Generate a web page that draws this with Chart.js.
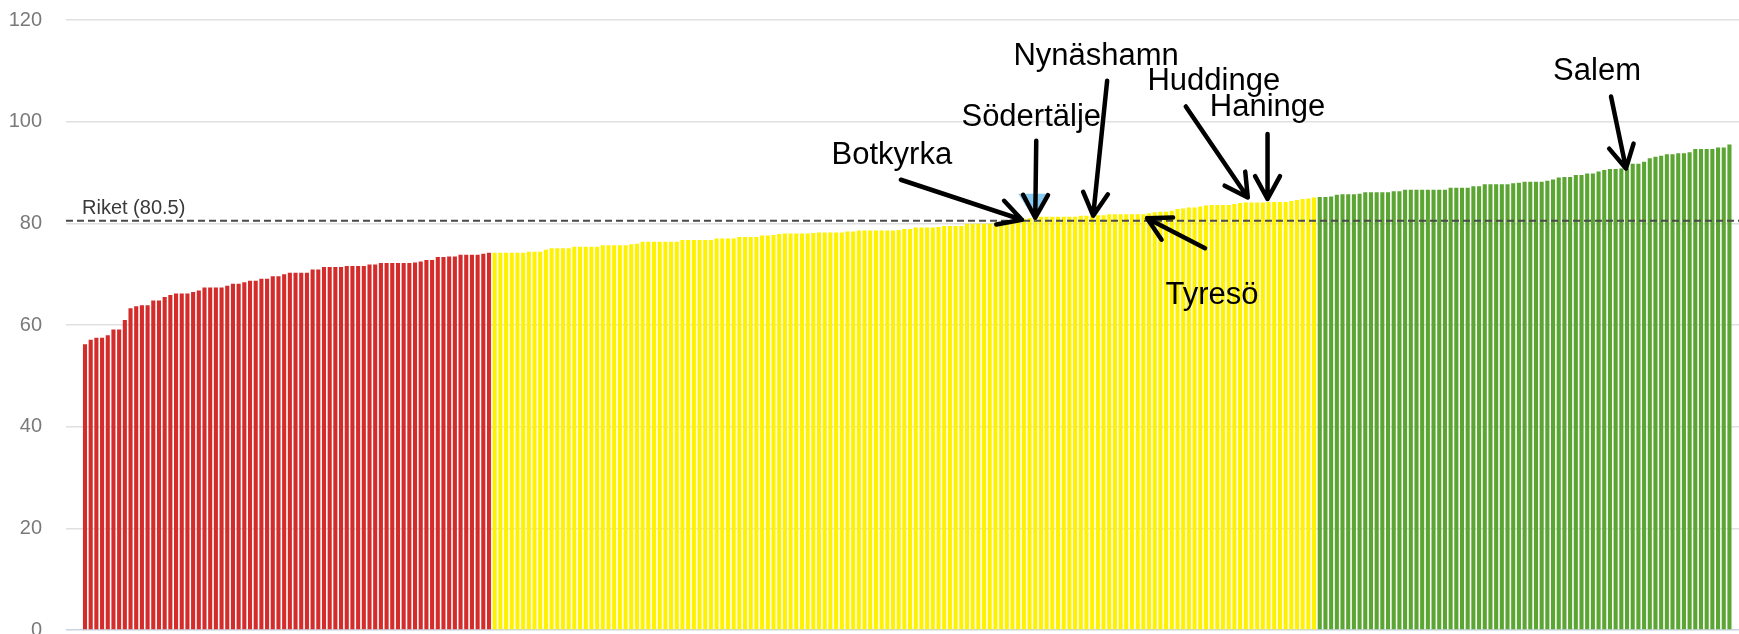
<!DOCTYPE html>
<html>
<head>
<meta charset="utf-8">
<script src="https://cdn.jsdelivr.net/npm/chart.js@4"></script>
<style>
html,body{margin:0;padding:0;background:#fff;overflow:hidden}
#wrap{position:relative;width:1739px;height:640px}
</style>
</head>
<body>
<div id="wrap"><canvas id="c"></canvas></div>
<script>
// ---- data (sorted municipalities, value per bar) ----
const redValues = [
56.2,57.1,57.5,57.5,58.0,59.1,59.1,61.0,63.3,63.7,
63.9,63.9,64.8,64.8,65.5,65.9,66.2,66.2,66.2,66.5,
66.8,67.4,67.4,67.4,67.4,67.7,68.1,68.1,68.4,68.7,
68.7,69.1,69.1,69.6,69.6,70.0,70.3,70.3,70.3,70.3,
70.9,70.9,71.4,71.4,71.4,71.4,71.6,71.6,71.6,71.6,
71.9,71.9,72.2,72.2,72.2,72.2,72.2,72.2,72.3,72.5,
72.8,72.8,73.4,73.4,73.5,73.5,73.8,73.8,73.8,73.8,
74.0,74.2
];
const yellowValues = [
74.2,74.2,74.2,74.2,74.2,74.2,
74.4,74.4,74.4,
74.8,
75.1,75.1,75.1,75.1,
75.4,75.4,75.4,75.4,75.4,
75.7,75.7,75.7,75.7,75.7,
75.9,76.0,
76.4,76.4,76.4,76.4,76.4,76.4,76.4,
76.7,76.7,76.7,76.7,76.7,76.7,
77.0,77.0,77.0,77.0,
77.3,77.3,77.3,77.3,
77.6,77.6,77.7,77.9,
78.0,78.0,78.0,78.0,78.0,78.1,
78.2,78.2,78.2,78.2,78.2,
78.4,78.4,
78.6,78.6,78.6,78.6,78.6,78.6,78.6,78.7,
78.9,78.9,
79.2,79.2,79.2,79.2,79.3,
79.5,79.5,79.5,79.5,
79.9,79.9,79.9,79.9,79.9,
80.1,80.1,80.5,80.5,80.7,80.9,81.0,81.1,
81.3,81.3,81.3,81.3,81.3,81.3,81.3,
81.5,81.5,81.5,
81.6,81.6,
81.8,81.8,81.8,81.8,81.8,81.8,81.8,
82.0,82.2,82.3,82.3,82.5,82.8,82.9,83.1,83.1,83.3,83.5,
83.6,83.6,83.6,83.6,83.8,84.0,
84.1,84.1,84.1,84.1,
84.2,84.2,84.2,84.2,
84.4,84.6,84.8,84.9,85.1
];
const greenValues = [
85.2,85.2,85.3,85.6,85.7,85.7,85.7,85.8,
86.1,86.1,86.1,86.1,86.1,86.3,86.3,
86.6,86.6,86.6,86.6,86.6,86.6,86.6,86.6,
87.0,87.0,87.0,87.0,87.3,87.3,
87.7,87.7,87.7,87.7,87.7,87.9,88.0,
88.2,88.2,88.2,88.2,88.4,88.6,89.0,89.1,89.1,
89.5,89.5,89.8,89.8,90.2,90.5,90.7,90.7,90.8,90.8,
91.7,91.7,92.1,92.8,93.1,93.3,93.6,93.6,93.8,93.8,94.0,
94.6,94.6,94.6,94.6,94.9,94.9,95.5
];
const riketValue = 80.5;
const riketLabel = 'Riket (80.5)';
const yTickValues = [0, 20, 40, 60, 80, 100, 120];
const annLabels = ['Botkyrka', 'Södertälje', 'Nynäshamn', 'Huddinge', 'Haninge', 'Tyresö', 'Salem'];
const annRanks  = [166, 168, 178, 205, 209, 188, 272];
const highlightRank = 168;

// ---- style / layout ----
const groupColors = ['#d42b2b', '#fff200', '#5ba632'];
// pixel offsets relative to the top of the bar: arrow tip, arrow tail, text (center, baseline)
const annLayout = [
  { tip: [-2, 1],  tail: [-123, -39], text: [-132, -55] },
  { tip: [0, 0],   tail: [1, -77],    text: [-4, -92] },
  { tip: [1, 0],   tail: [15, -135],  text: [4, -151] },
  { tip: [2, -5],  tail: [-60, -96],  text: [-32, -112] },
  { tip: [-1, -3], tail: [-1, -68],   text: [-1, -86] },
  { tip: [-2, 5],  tail: [56, 35],    text: [63, 91] },
  { tip: [-1, 0],  tail: [-16, -72],  text: [-30, -88] }
];

const values = redValues.concat(yellowValues, greenValues);
const ranks = values.map((v, i) => i + 1);
const barColors = []
  .concat(redValues.map(() => groupColors[0]))
  .concat(yellowValues.map(() => groupColors[1]))
  .concat(greenValues.map(() => groupColors[2]));

const xMin = -2.34, xMax = 291.68;

function drawArrow(ctx, sx, sy, tx, ty) {
  const ang = Math.atan2(ty - sy, tx - sx);
  const head = 26, spread = 0.5;
  ctx.beginPath();
  ctx.moveTo(sx, sy);
  ctx.lineTo(tx, ty);
  ctx.moveTo(tx - head * Math.cos(ang - spread), ty - head * Math.sin(ang - spread));
  ctx.lineTo(tx, ty);
  ctx.lineTo(tx - head * Math.cos(ang + spread), ty - head * Math.sin(ang + spread));
  ctx.stroke();
}

const annPlugin = {
  id: 'annotations',
  afterDatasetsDraw(chart) {
    const { ctx, chartArea, scales: { x, y } } = chart;
    ctx.save();
    ctx.font = '20px "Liberation Sans", Arial, sans-serif';
    ctx.fillStyle = '#3a3a3a';
    ctx.textAlign = 'left';
    ctx.textBaseline = 'alphabetic';
    ctx.fillText(riketLabel, chartArea.left + 16, y.getPixelForValue(riketValue) - 7);

    const hx = x.getPixelForValue(highlightRank);
    const hy = y.getPixelForValue(values[highlightRank - 1]);
    ctx.fillStyle = 'rgba(125,198,240,0.9)';
    ctx.beginPath();
    ctx.moveTo(hx - 17, hy - 24);
    ctx.lineTo(hx + 14, hy - 24);
    ctx.lineTo(hx, hy + 3);
    ctx.closePath();
    ctx.fill();

    ctx.strokeStyle = '#000';
    ctx.lineWidth = 4.5;
    ctx.lineCap = 'round';
    ctx.lineJoin = 'round';
    ctx.fillStyle = '#000';
    ctx.font = '31px "Liberation Sans", Arial, sans-serif';
    ctx.textAlign = 'center';
    annLabels.forEach((name, i) => {
      const r = annRanks[i];
      const xb = x.getPixelForValue(r);
      const yb = y.getPixelForValue(values[r - 1]);
      const L = annLayout[i];
      drawArrow(ctx, xb + L.tail[0], yb + L.tail[1], xb + L.tip[0], yb + L.tip[1]);
      ctx.fillText(name, xb + L.text[0], yb + L.text[1]);
    });
    ctx.restore();
  }
};

new Chart(document.getElementById('c'), {
  data: {
    datasets: [
      {
        type: 'line',
        data: [{ x: xMin, y: riketValue }, { x: xMax, y: riketValue }],
        borderColor: '#4a4a4a',
        borderWidth: 2,
        borderDash: [7, 4],
        pointRadius: 0,
        order: 0
      },
      {
        type: 'bar',
        data: ranks.map((r, i) => ({ x: r, y: values[i] })),
        backgroundColor: barColors,
        borderWidth: 0,
        barPercentage: 0.72,
        categoryPercentage: 1,
        order: 1
      }
    ]
  },
  options: {
    responsive: true,
    maintainAspectRatio: false,
    animation: false,
    layout: { padding: { top: 20, left: 0, right: 0, bottom: 10 } },
    plugins: { legend: { display: false }, tooltip: { enabled: false } },
    scales: {
      x: { type: 'linear', min: xMin, max: xMax, offset: false, display: false },
      y: {
        min: 0, max: 120,
        afterBuildTicks: s => { s.ticks = yTickValues.map(v => ({ value: v })); },
        afterFit: s => { s.width = 66; s.paddingTop = 0; s.paddingBottom = 0; },
        border: { display: false },
        grid: {
          drawTicks: false,
          lineWidth: 1.5,
          color: c => (c.tick && c.tick.value === 0) ? '#c9d4df' : '#e0e0e0'
        },
        ticks: {
          padding: 24,
          color: '#7a7a7a',
          font: { family: '"Liberation Sans", Arial, sans-serif', size: 20 }
        }
      }
    }
  },
  plugins: [annPlugin]
});
</script>
</body>
</html>
